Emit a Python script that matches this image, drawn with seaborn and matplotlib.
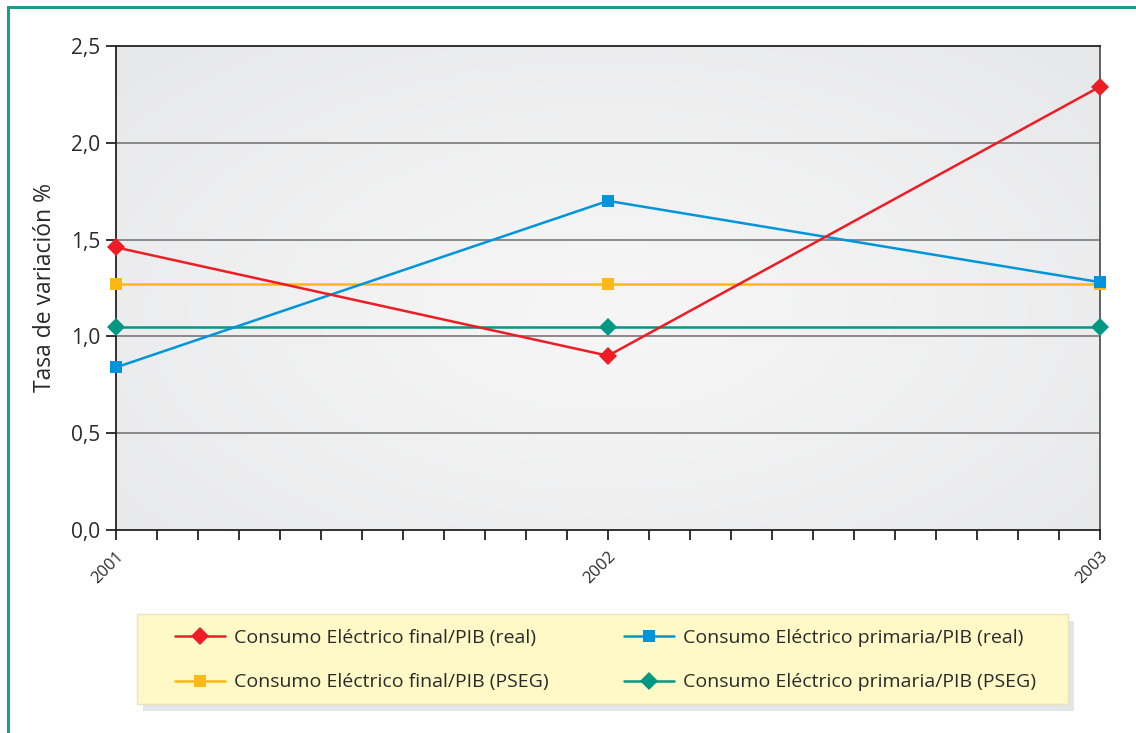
import numpy as np
import pandas as pd
import matplotlib
matplotlib.use("Agg")
import matplotlib.pyplot as plt
from matplotlib.patches import Rectangle
from matplotlib.lines import Line2D
import seaborn as sns

# Data
years = [2001, 2002, 2003]
final_real = [1.46, 0.90, 2.29]
primaria_real = [0.84, 1.70, 1.28]
final_pseg = [1.27, 1.27, 1.27]
primaria_pseg = [1.05, 1.05, 1.05]
y_ticks = [0.0, 0.5, 1.0, 1.5, 2.0, 2.5]
y_tick_labels = ["0,0", "0,5", "1,0", "1,5", "2,0", "2,5"]
labels = [
    "Consumo Eléctrico final/PIB (real)",
    "Consumo Eléctrico primaria/PIB (real)",
    "Consumo Eléctrico final/PIB (PSEG)",
    "Consumo Eléctrico primaria/PIB (PSEG)",
]

RED, BLUE, YELLOW, TEAL = "#ee1c25", "#0095da", "#fdb913", "#009882"
TXT = "#2a2a2a"

sns.set_theme(style="white")
plt.rcParams["font.family"] = ["Open Sans", "DejaVu Sans"]

W, H = 1136, 733
fig = plt.figure(figsize=(W / 100, H / 100), dpi=100)
fig.patch.set_facecolor("white")

# teal frame around the figure
fig.patches.append(Rectangle((8 / W, -0.05), 1.2, 1 - 7 / H + 0.05,
                             transform=fig.transFigure, fill=False,
                             edgecolor="#1a9e8a", linewidth=2.2, zorder=0))

ax = fig.add_axes([116 / W, 1 - 530 / H, 984 / W, 484 / H])

# radial gradient background of the plot area
ny, nx = 300, 600
yy, xx = np.mgrid[0:1:ny * 1j, 0:1:nx * 1j]
r = np.sqrt((xx - 0.5) ** 2 + ((yy - 0.45) * 0.9) ** 2)
r = np.clip(r / 0.72, 0, 1) ** 1.2
c0 = np.array([0.965, 0.965, 0.965])
c1 = np.array([0.902, 0.906, 0.914])
img = c0[None, None, :] * (1 - r[..., None]) + c1[None, None, :] * r[..., None]
ax.imshow(img, extent=[0, 1, 0, 1], transform=ax.transAxes, aspect="auto",
          zorder=0, origin="lower")

series = [
    (final_pseg, YELLOW, "s", 8),
    (primaria_pseg, TEAL, "D", 9),
    (primaria_real, BLUE, "s", 8),
    (final_real, RED, "D", 9),
]
for vals, col, mk, ms in series:
    df = pd.DataFrame({"year": years, "value": vals})
    sns.lineplot(data=df, x="year", y="value", ax=ax, color=col, marker=mk,
                 markersize=ms, markeredgewidth=0, linewidth=1.8, zorder=5,
                 clip_on=False, legend=False)

ax.set_xlim(2001, 2003)
ax.set_ylim(0, 2.5)
ax.set_yticks(y_ticks)
ax.set_yticklabels(y_tick_labels, fontsize=15, color=TXT)
ax.set_xticks(years)
ax.set_xticklabels([str(y) for y in years], rotation=45, ha="right",
                   rotation_mode="anchor", fontsize=12, color=TXT)
ax.set_xticks(np.arange(2001, 2003 + 1e-9, 1 / 12), minor=True)
ax.tick_params(axis="both", which="both", direction="out", length=7.5,
               width=1.3, color="#222222", bottom=True, left=True)
ax.tick_params(axis="y", pad=4)
ax.tick_params(axis="x", which="major", pad=6)
ax.set_xlabel("")
ax.set_ylabel("Tasa de variación %", fontsize=16.5, color=TXT, labelpad=10)

for yv in y_ticks[1:-1]:
    ax.axhline(yv, color="#787878", linewidth=1.2, zorder=1)

for side in ["left", "bottom", "top"]:
    ax.spines[side].set_color("#222222")
    ax.spines[side].set_linewidth(1.3)
ax.spines["right"].set_color("#555555")
ax.spines["right"].set_linewidth(1.3)
for s in ax.spines.values():
    s.set_visible(True)
    s.set_zorder(3)

# legend box and its shadow
lx0, ly0, lx1, ly1 = 137, 614, 1068, 704
fig.patches.append(Rectangle(((lx0 + 6) / W, 1 - (ly1 + 7) / H),
                             (lx1 - lx0) / W, (ly1 - ly0) / H,
                             transform=fig.transFigure, facecolor="#e4e5e7",
                             edgecolor="none", zorder=1))
fig.patches.append(Rectangle((lx0 / W, 1 - ly1 / H),
                             (lx1 - lx0) / W, (ly1 - ly0) / H,
                             transform=fig.transFigure, facecolor="#fef9c6",
                             edgecolor="#e8e4c0", linewidth=1.0, zorder=2))

handles = [
    Line2D([], [], color=RED, marker="D", markersize=9, markeredgewidth=0, linewidth=1.8),
    Line2D([], [], color=YELLOW, marker="s", markersize=8, markeredgewidth=0, linewidth=1.8),
    Line2D([], [], color=BLUE, marker="s", markersize=8, markeredgewidth=0, linewidth=1.8),
    Line2D([], [], color=TEAL, marker="D", markersize=9, markeredgewidth=0, linewidth=1.8),
]
leg_labels = [labels[0], labels[2], labels[1], labels[3]]
fs = 14
fs_px = fs * 100 / 72
leg = fig.legend(handles, leg_labels, ncol=2, loc="center left",
                 bbox_to_anchor=(175 / W, 1 - 660 / H),
                 fontsize=fs, frameon=False, borderpad=0,
                 labelspacing=(52 - 1.3 * fs_px) / fs_px,
                 handlelength=50 / fs_px, handletextpad=9 / fs_px,
                 borderaxespad=0, columnspacing=75 / fs_px)
leg.set_zorder(5)
for t in leg.get_texts():
    t.set_color(TXT)

fig.savefig("out.png", dpi=100, facecolor="white")
